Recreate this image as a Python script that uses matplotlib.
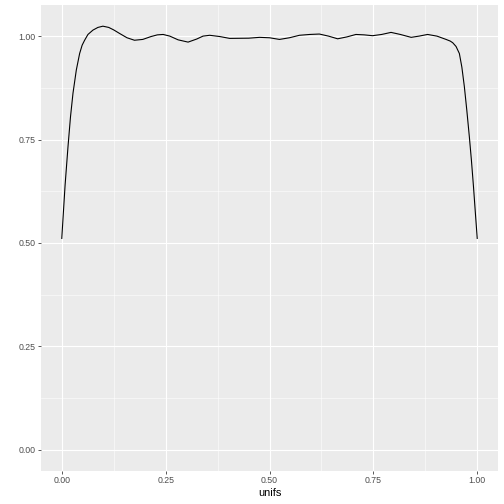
import matplotlib
matplotlib.use("Agg")
import matplotlib.pyplot as plt

plt.rcParams['font.family'] = ['Liberation Sans', 'DejaVu Sans']

# density curve
xs = [0.0, 0.008, 0.015, 0.021, 0.027, 0.035, 0.043, 0.049, 0.055, 0.063, 0.075,
      0.087, 0.099, 0.113, 0.125, 0.139, 0.157, 0.175, 0.195, 0.215, 0.230, 0.244,
      0.260, 0.280, 0.304, 0.325, 0.340, 0.356, 0.380, 0.404, 0.450, 0.476, 0.500,
      0.524, 0.548, 0.572, 0.597, 0.620, 0.642, 0.664, 0.686, 0.708, 0.728, 0.748,
      0.770, 0.7925, 0.815, 0.841, 0.860, 0.8805, 0.903, 0.925, 0.935, 0.941,
      0.949, 0.957, 0.963, 0.969, 0.975, 0.981, 0.986, 0.991, 0.995, 1.0]
ys = [0.511, 0.640, 0.733, 0.805, 0.862, 0.918, 0.958, 0.978, 0.990, 1.004, 1.0145,
      1.021, 1.024, 1.021, 1.015, 1.0065, 0.996, 0.990, 0.992, 0.999, 1.003, 1.004,
      1.000, 0.991, 0.9855, 0.993, 1.000, 1.002, 0.999, 0.9945, 0.995, 0.997, 0.996,
      0.992, 0.996, 1.002, 1.004, 1.005, 1.000, 0.9935, 0.998, 1.004, 1.003, 1.001,
      1.004, 1.009, 1.004, 0.997, 1.000, 1.004, 1.000, 0.992, 0.988, 0.984,
      0.975, 0.958, 0.925, 0.878, 0.820, 0.757, 0.700, 0.636, 0.580, 0.511]

ticks = [0.0, 0.25, 0.5, 0.75, 1.0]
tick_labels = ["0.00", "0.25", "0.50", "0.75", "1.00"]
minor = [0.125, 0.375, 0.625, 0.875]

fig = plt.figure(figsize=(7, 7), dpi=72)
ax = fig.add_axes([41 / 504, 1 - 471 / 504, 457 / 504, 466 / 504])
ax.set_facecolor("#EBEBEB")

for v in minor:
    ax.axvline(v, color="white", lw=0.55, zorder=0)
    ax.axhline(v, color="white", lw=0.55, zorder=0)
for v in ticks:
    ax.axvline(v, color="white", lw=1.1, zorder=0)
    ax.axhline(v, color="white", lw=1.1, zorder=0)

ax.plot(xs, ys, color="black", lw=1.1, zorder=2)

ax.set_xlim(-0.05, 1.05)
ax.set_ylim(-0.0512, 1.0752)
ax.set_xticks(ticks)
ax.set_xticklabels(tick_labels)
ax.set_yticks(ticks)
ax.set_yticklabels(tick_labels)
ax.tick_params(colors="#333333", labelcolor="#4D4D4D", labelsize=8.8,
               length=2.75, width=0.8, pad=2.5)
for s in ax.spines.values():
    s.set_visible(False)
ax.set_xlabel("unifs", fontsize=11, color="black", labelpad=3)

fig.savefig("out.png", dpi=72)
